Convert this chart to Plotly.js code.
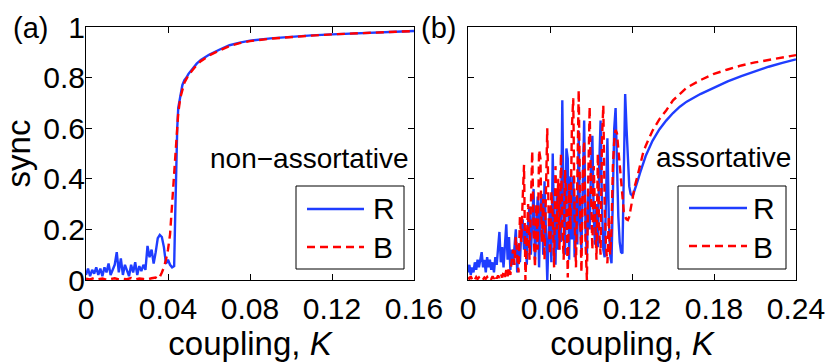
<!DOCTYPE html>
<html>
<head>
<meta charset="utf-8">
<script src="https://cdn.plot.ly/plotly-3.0.1.min.js"></script>
<style>html,body{margin:0;padding:0;background:#fff;}#chart{width:830px;height:364px;}</style>
</head>
<body>
<div id="chart"></div>
<script>
// ---------- Panel (a): non-assortative ----------
const kA_R = [0,0.001,0.002,0.003,0.004,0.005,0.006,0.007,0.008,0.009,0.010,0.011,0.012,0.013,0.014,0.015,0.016,0.017,0.018,0.019,0.020,0.021,0.022,0.023,0.024,0.025,0.026,0.027,0.028,0.029,0.030,0.031,0.032,0.033,0.034,0.035,0.036,0.037,0.038,0.039,0.040,0.041,0.042,0.043,0.0435,0.044,0.0445,0.045,0.046,0.047,0.048,0.049,0.050,0.052,0.054,0.056,0.058,0.060,0.065,0.070,0.075,0.080,0.090,0.100,0.110,0.120,0.130,0.140,0.150,0.160];
const syncA_R = [0.02,0.045,0.015,0.04,0.025,0.05,0.02,0.045,0.015,0.05,0.03,0.065,0.02,0.04,0.06,0.11,0.03,0.085,0.02,0.06,0.04,0.015,0.06,0.03,0.07,0.02,0.055,0.035,0.06,0.04,0.135,0.09,0.12,0.065,0.11,0.165,0.178,0.17,0.13,0.065,0.08,0.06,0.05,0.055,0.25,0.45,0.6,0.68,0.73,0.77,0.79,0.80,0.815,0.835,0.855,0.87,0.88,0.89,0.91,0.928,0.938,0.946,0.955,0.962,0.967,0.971,0.975,0.978,0.981,0.984];
const kA_B = [0,0.002,0.004,0.006,0.008,0.010,0.012,0.014,0.016,0.018,0.020,0.022,0.024,0.026,0.028,0.030,0.032,0.034,0.035,0.036,0.037,0.038,0.039,0.040,0.041,0.042,0.043,0.044,0.045,0.046,0.047,0.048,0.049,0.050,0.052,0.054,0.056,0.058,0.060,0.065,0.070,0.075,0.080,0.090,0.100,0.110,0.120,0.130,0.140,0.150,0.160];
const syncA_B = [0.005,0.002,0.008,0.003,0.006,0.001,0.004,0.007,0.002,0.005,0.003,0.008,0.002,0.006,0.004,0.002,0.007,0.01,0.004,0.012,0.03,0.05,0.08,0.12,0.18,0.30,0.44,0.57,0.66,0.72,0.75,0.78,0.795,0.81,0.83,0.85,0.865,0.877,0.887,0.907,0.925,0.936,0.944,0.954,0.961,0.966,0.971,0.975,0.978,0.981,0.984];

// ---------- Panel (b): assortative ----------
const kB_R = [0,0.001,0.002,0.003,0.004,0.005,0.006,0.007,0.008,0.009,0.010,0.011,0.012,0.013,0.014,0.015,0.016,0.017,0.018,0.019,0.020,0.021,0.022,0.023,0.024,0.025,0.026,0.027,0.028,0.029,0.030,0.031,0.032,0.033,0.034,0.035,0.036,0.037,0.038,0.039,0.040,0.041,0.042,0.043,0.044,0.045,0.046,0.047,0.048,0.049,0.050,0.051,0.052,0.053,0.054,0.055,0.056,0.057,0.058,0.059,0.060,0.061,0.062,0.063,0.064,0.065,0.066,0.067,0.068,0.069,0.070,0.071,0.072,0.073,0.074,0.075,0.076,0.077,0.078,0.079,0.080,0.081,0.082,0.083,0.084,0.085,0.086,0.087,0.088,0.089,0.090,0.091,0.092,0.093,0.094,0.095,0.096,0.097,0.098,0.099,0.100,0.101,0.102,0.103,0.104,0.105,0.106,0.107,0.108,0.109,0.110,0.111,0.112,0.113,0.114,0.115,0.116,0.117,0.118,0.119,0.120,0.121,0.122,0.124,0.126,0.128,0.130,0.135,0.140,0.145,0.150,0.155,0.160,0.170,0.180,0.190,0.200,0.210,0.220,0.230,0.240];
const syncB_R = [0.03,0.06,0.02,0.05,0.03,0.07,0.04,0.08,0.05,0.09,0.11,0.05,0.08,0.03,0.09,0.05,0.08,0.04,0.07,0.03,0.09,0.06,0.12,0.19,0.07,0.13,0.05,0.16,0.22,0.08,0.17,0.04,0.12,0.06,0.15,0.20,0.03,0.14,0.07,0.19,0.24,0.12,0.20,0.06,0.23,0.29,0.10,0.26,0.36,0.08,0.20,0.33,0.05,0.30,0.34,0.10,0.39,0.16,0.0,0.18,0.29,0.07,0.50,0.20,0.06,0.36,0.12,0.36,0.15,0.71,0.25,0.10,0.52,0.48,0.08,0.41,0.16,0.41,0.09,0.33,0.14,0.59,0.22,0.12,0.45,0.63,0.20,0.10,0.35,0.20,0.44,0.57,0.25,0.14,0.30,0.13,0.45,0.63,0.30,0.12,0.09,0.35,0.56,0.25,0.10,0.066,0.30,0.60,0.68,0.45,0.25,0.15,0.11,0.105,0.40,0.735,0.60,0.45,0.37,0.34,0.335,0.34,0.355,0.39,0.425,0.46,0.49,0.55,0.595,0.63,0.66,0.685,0.705,0.735,0.76,0.785,0.806,0.825,0.843,0.858,0.872];
const kB_B = [0,0.001,0.002,0.003,0.004,0.005,0.006,0.007,0.008,0.009,0.010,0.011,0.012,0.013,0.014,0.015,0.016,0.017,0.018,0.019,0.020,0.021,0.022,0.023,0.024,0.025,0.026,0.027,0.028,0.029,0.030,0.031,0.032,0.033,0.034,0.035,0.036,0.037,0.038,0.039,0.040,0.041,0.042,0.043,0.044,0.045,0.046,0.047,0.048,0.049,0.050,0.051,0.052,0.053,0.054,0.055,0.056,0.057,0.058,0.059,0.060,0.061,0.062,0.063,0.064,0.065,0.066,0.067,0.068,0.069,0.070,0.071,0.072,0.073,0.074,0.075,0.076,0.077,0.078,0.079,0.080,0.081,0.082,0.083,0.084,0.085,0.086,0.087,0.088,0.089,0.090,0.091,0.092,0.093,0.094,0.095,0.096,0.097,0.098,0.099,0.100,0.101,0.102,0.103,0.104,0.105,0.106,0.107,0.108,0.109,0.110,0.111,0.112,0.113,0.114,0.115,0.116,0.117,0.118,0.119,0.120,0.122,0.124,0.126,0.128,0.130,0.135,0.140,0.145,0.150,0.155,0.160,0.170,0.180,0.190,0.200,0.210,0.220,0.230,0.240];
const syncB_B = [0.01,0.005,0.015,0.003,0.01,0.002,0.012,0.004,0.01,0.003,0.008,0.002,0.01,0.005,0.012,0.003,0.01,0.004,0.015,0.005,0.02,0.006,0.018,0.008,0.025,0.01,0.03,0.012,0.04,0.015,0.05,0.02,0.08,0.12,0.06,0.17,0.10,0.03,0.25,0.15,0.32,0.455,0.0,0.15,0.30,0.08,0.35,0.51,0.20,0.05,0.30,0.12,0.514,0.48,0.15,0.32,0.08,0.42,0.60,0.25,0.10,0.35,0.26,0.05,0.45,0.20,0.40,0.12,0.50,0.22,0.08,0.435,0.30,0.01,0.38,0.20,0.60,0.718,0.25,0.05,0.50,0.751,0.30,0.03,0.42,0.55,0.15,0.0,0.40,0.685,0.35,0.12,0.45,0.30,0.08,0.50,0.20,0.10,0.55,0.69,0.30,0.13,0.066,0.25,0.10,0.20,0.45,0.55,0.593,0.58,0.52,0.44,0.37,0.31,0.27,0.25,0.24,0.237,0.25,0.28,0.31,0.37,0.41,0.46,0.50,0.53,0.59,0.635,0.67,0.71,0.735,0.76,0.79,0.815,0.832,0.848,0.86,0.87,0.88,0.889];

const xTicksA = [0,0.04,0.08,0.12,0.16];
const xTickTextA = ['0','0.04','0.08','0.12','0.16'];
const xTicksB = [0,0.06,0.12,0.18,0.24];
const xTickTextB = ['0','0.06','0.12','0.18','0.24'];
const yTicks = [0,0.2,0.4,0.6,0.8,1];
const yTickText = ['0','0.2','0.4','0.6','0.8','1'];
const seriesNames = ['R','B'];

// ---------- styling / layout ----------
const W = 830, H = 364;
const px = v => v / W;
const py = v => 1 - v / H;
const FONT = 'Liberation Sans, Arial, Helvetica, sans-serif';
const BLUE = '#1f3dff';
const RED = '#ff0000';

const traces = [
  {x: kA_R, y: syncA_R, xaxis: 'x', yaxis: 'y', mode: 'lines', name: seriesNames[0], line: {color: BLUE, width: 2.4}, showlegend: false},
  {x: kA_B, y: syncA_B, xaxis: 'x', yaxis: 'y', mode: 'lines', name: seriesNames[1], line: {color: RED, width: 2.4, dash: '8px,5px'}, showlegend: false},
  {x: kB_R, y: syncB_R, xaxis: 'x2', yaxis: 'y2', mode: 'lines', name: seriesNames[0], line: {color: BLUE, width: 2.4}, showlegend: false},
  {x: kB_B, y: syncB_B, xaxis: 'x2', yaxis: 'y2', mode: 'lines', name: seriesNames[1], line: {color: RED, width: 2.4, dash: '8px,5px'}, showlegend: false}
];

const axisCommon = {
  showgrid: false, zeroline: false, showline: true, mirror: 'ticks',
  linecolor: '#000', linewidth: 1, ticks: 'inside', ticklen: 6, tickcolor: '#000', tickwidth: 1,
  tickfont: {family: FONT, size: 30, color: '#000'}, tickmode: 'array', fixedrange: true
};

const titleFont = {family: FONT, size: 33, color: '#000'};

const layout = {
  width: W, height: H,
  margin: {l: 0, r: 0, t: 0, b: 0},
  paper_bgcolor: '#fff', plot_bgcolor: '#fff',
  showlegend: false,
  xaxis: Object.assign({}, axisCommon, {domain: [px(86), px(414)], range: [0, 0.16], anchor: 'y',
    tickvals: xTicksA, ticktext: xTickTextA, ticklabelstandoff: 2,
    title: {text: 'coupling, <i>K</i>', font: titleFont, standoff: 0}}),
  yaxis: Object.assign({}, axisCommon, {domain: [py(280), py(27)], range: [0, 1], anchor: 'x',
    tickvals: yTicks, ticktext: yTickText, ticklabelstandoff: -6,
    title: {text: 'sync', font: titleFont, standoff: 2}}),
  xaxis2: Object.assign({}, axisCommon, {domain: [px(468), px(796)], range: [0, 0.24], anchor: 'y2',
    tickvals: xTicksB, ticktext: xTickTextB, ticklabelstandoff: 2,
    title: {text: 'coupling, <i>K</i>', font: titleFont, standoff: 0}}),
  yaxis2: Object.assign({}, axisCommon, {domain: [py(280), py(27)], range: [0, 1], anchor: 'x2',
    tickvals: yTicks, showticklabels: false}),
  annotations: [
    {xref: 'paper', yref: 'paper', x: px(30), y: py(28), text: '(a)', showarrow: false, xanchor: 'center', yanchor: 'middle', font: {family: FONT, size: 29, color: '#000'}},
    {xref: 'paper', yref: 'paper', x: px(438), y: py(28), text: '(b)', showarrow: false, xanchor: 'center', yanchor: 'middle', font: {family: FONT, size: 29, color: '#000'}},
    {xref: 'paper', yref: 'paper', x: px(410), y: py(158), text: 'non\u2212assortative', showarrow: false, xanchor: 'right', yanchor: 'middle', font: {family: FONT, size: 28, color: '#000'}},
    {xref: 'paper', yref: 'paper', x: px(793), y: py(157), text: 'assortative', showarrow: false, xanchor: 'right', yanchor: 'middle', font: {family: FONT, size: 28, color: '#000'}},
    {xref: 'paper', yref: 'paper', x: px(371), y: py(209), text: seriesNames[0], showarrow: false, xanchor: 'left', yanchor: 'middle', font: {family: FONT, size: 30, color: '#000'}},
    {xref: 'paper', yref: 'paper', x: px(371), y: py(247), text: seriesNames[1], showarrow: false, xanchor: 'left', yanchor: 'middle', font: {family: FONT, size: 30, color: '#000'}},
    {xref: 'paper', yref: 'paper', x: px(751), y: py(209), text: seriesNames[0], showarrow: false, xanchor: 'left', yanchor: 'middle', font: {family: FONT, size: 30, color: '#000'}},
    {xref: 'paper', yref: 'paper', x: px(751), y: py(247), text: seriesNames[1], showarrow: false, xanchor: 'left', yanchor: 'middle', font: {family: FONT, size: 30, color: '#000'}}
  ],
  shapes: [
    {type: 'rect', xref: 'paper', yref: 'paper', x0: px(296), x1: px(404), y0: py(186), y1: py(269), line: {color: '#000', width: 1}, fillcolor: '#fff', layer: 'above'},
    {type: 'line', xref: 'paper', yref: 'paper', x0: px(307), x1: px(364), y0: py(209), y1: py(209), line: {color: BLUE, width: 2.4}, layer: 'above'},
    {type: 'line', xref: 'paper', yref: 'paper', x0: px(307), x1: px(364), y0: py(247), y1: py(247), line: {color: RED, width: 2.4, dash: '8px,5px'}, layer: 'above'},
    {type: 'rect', xref: 'paper', yref: 'paper', x0: px(678), x1: px(786), y0: py(186), y1: py(269), line: {color: '#000', width: 1}, fillcolor: '#fff', layer: 'above'},
    {type: 'line', xref: 'paper', yref: 'paper', x0: px(689), x1: px(747), y0: py(208), y1: py(208), line: {color: BLUE, width: 2.4}, layer: 'above'},
    {type: 'line', xref: 'paper', yref: 'paper', x0: px(689), x1: px(747), y0: py(246), y1: py(246), line: {color: RED, width: 2.4, dash: '8px,5px'}, layer: 'above'}
  ]
};

Plotly.newPlot('chart', traces, layout, {staticPlot: true, displayModeBar: false});
</script>
</body>
</html>
